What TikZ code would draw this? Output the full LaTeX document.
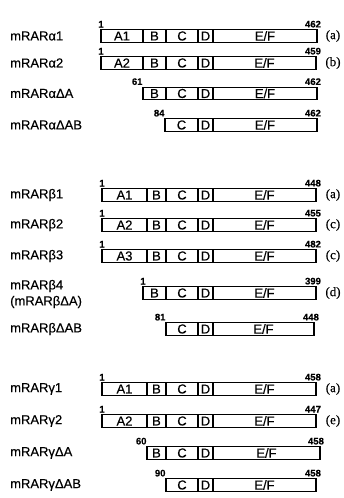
\documentclass[tikz,border=0pt]{standalone}
\usepackage{fontspec}
\setmainfont{Liberation Sans}[FakeBold=0.4]
\newfontfamily\serifa{Liberation Serif}[FakeBold=0.4]
\tikzset{
  segbox/.style={draw, line width=1.1pt, inner sep=0pt, outer sep=0pt, minimum height=12.5pt, anchor=west, font=\fontsize{13}{13}\selectfont},
  numlab/.style={font=\fontsize{9.5}{9.5}\selectfont\bfseries, inner sep=0.3pt},
  rowlab/.style={font=\fontsize{13}{13}\selectfont, anchor=west, inner sep=0pt},
  taglab/.style={font=\serifa\fontsize{13}{13}\selectfont, inner sep=0pt}
}
\newcommand\prow[3]{%
  \foreach \xa/\xb/\lab [count=\i] in {#3}{
    \node[segbox, minimum width={(\xb-\xa)*1pt}] (#1-\i) at (\xa,#2) {\lab};
  }}
\begin{document}
\begin{tikzpicture}[x=1pt,y=-1pt]
\useasboundingbox (0,0) rectangle (344,498);
% alpha
\node[rowlab] (la1) at (10,36) {mRARα1};
\prow{a1}{36}{101/143/A1,143/166/B,166/198/C,198/213/D,213/317/{E/F}}
\node[numlab,anchor=south] (a1s) at (101,28) {1};
\node[numlab,anchor=south] (a1e) at (313,28) {462};
\node[taglab] (a1t) at (333,36) {(a)};

\node[rowlab] (la2) at (10,63) {mRARα2};
\prow{a2}{63}{101/143/A2,143/166/B,166/198/C,198/213/D,213/316/{E/F}}
\node[numlab,anchor=south] (a2s) at (101,55) {1};
\node[numlab,anchor=south] (a2e) at (313,55) {459};
\node[taglab] (a2t) at (333,63) {(b)};

\node[rowlab] (la3) at (10,93.5) {mRARαΔA};
\prow{a3}{93.5}{143/166/B,166/198/C,198/213/D,213/317/{E/F}}
\node[numlab,anchor=south east] (a3s) at (143,85.5) {61};
\node[numlab,anchor=south] (a3e) at (313,85.5) {462};

\node[rowlab] (la4) at (10,125) {mRARαΔAB};
\prow{a4}{125}{165/198/C,198/213/D,213/317/{E/F}}
\node[numlab,anchor=south east] (a4s) at (165,117) {84};
\node[numlab,anchor=south] (a4e) at (313,117) {462};

% beta
\node[rowlab] (lb1) at (10,195) {mRARβ1};
\prow{b1}{195}{102/147/A1,147/166/B,166/198/C,198/213/D,213/316/{E/F}}
\node[numlab,anchor=south] (b1s) at (102,187) {1};
\node[numlab,anchor=south] (b1e) at (313,187) {448};
\node[taglab] (b1t) at (333,195) {(a)};

\node[rowlab] (lb2) at (10,225) {mRARβ2};
\prow{b2}{225}{102/147/A2,147/166/B,166/198/C,198/213/D,213/316/{E/F}}
\node[numlab,anchor=south] (b2s) at (102,217) {1};
\node[numlab,anchor=south] (b2e) at (313,217) {455};
\node[taglab] (b2t) at (333,225) {(c)};

\node[rowlab] (lb3) at (10,256) {mRARβ3};
\prow{b3}{256}{102/147/A3,147/166/B,166/198/C,198/213/D,213/316/{E/F}}
\node[numlab,anchor=south] (b3s) at (102,248) {1};
\node[numlab,anchor=south] (b3e) at (313,248) {482};
\node[taglab] (b3t) at (333,256) {(c)};

\node[rowlab] (lb4) at (10,286) {mRARβ4};
\node[rowlab] (lb4b) at (10,302) {(mRARβΔA)};
\prow{b4}{293}{143/166/B,166/198/C,198/213/D,213/316/{E/F}}
\node[numlab,anchor=south] (b4s) at (143,285) {1};
\node[numlab,anchor=south] (b4e) at (313,285) {399};
\node[taglab] (b4t) at (333,293) {(d)};

\node[rowlab] (lb5) at (10,329) {mRARβΔAB};
\prow{b5}{329}{166/198/C,198/213/D,213/314/{E/F}}
\node[numlab,anchor=south east] (b5s) at (166,321) {81};
\node[numlab,anchor=south] (b5e) at (311,321) {448};

% gamma
\node[rowlab] (lg1) at (10,389) {mRARγ1};
\prow{g1}{389}{102/147/A1,147/166/B,166/198/C,198/213/D,213/316/{E/F}}
\node[numlab,anchor=south] (g1s) at (102,381) {1};
\node[numlab,anchor=south] (g1e) at (313,381) {458};
\node[taglab] (g1t) at (333,389) {(a)};

\node[rowlab] (lg2) at (10,421) {mRARγ2};
\prow{g2}{421}{102/147/A2,147/166/B,166/198/C,198/213/D,213/316/{E/F}}
\node[numlab,anchor=south] (g2s) at (102,413) {1};
\node[numlab,anchor=south] (g2e) at (313,413) {447};
\node[taglab] (g2t) at (333,421) {(e)};

\node[rowlab] (lg3) at (10,453) {mRARγΔA};
\prow{g3}{453}{147/166/B,166/198/C,198/213/D,213/320/{E/F}}
\node[numlab,anchor=south east] (g3s) at (147,445) {60};
\node[numlab,anchor=south] (g3e) at (316,445) {458};

\node[rowlab] (lg4) at (10,485) {mRARγΔAB};
\prow{g4}{485}{166/198/C,198/213/D,213/316/{E/F}}
\node[numlab,anchor=south east] (g4s) at (166,477) {90};
\node[numlab,anchor=south] (g4e) at (313,477) {458};
\end{tikzpicture}
\end{document}
